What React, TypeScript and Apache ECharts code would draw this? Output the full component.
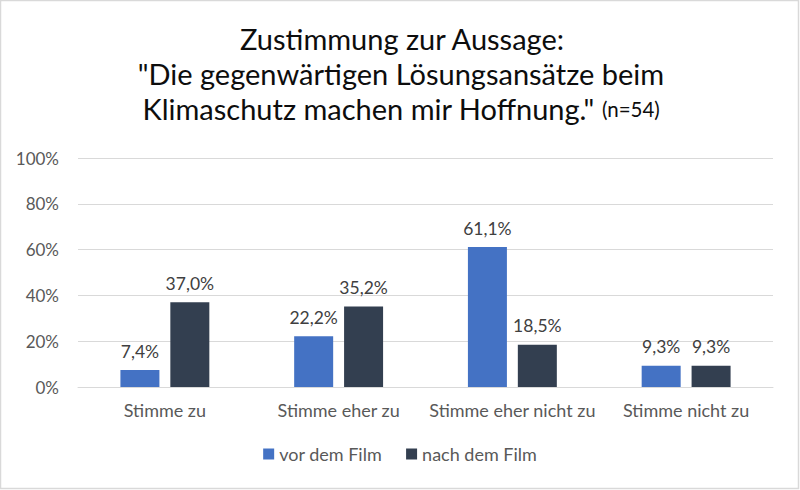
import React, { useEffect, useRef } from "react";
import * as echarts from "echarts";

const categories = ["Stimme zu", "Stimme eher zu", "Stimme eher nicht zu", "Stimme nicht zu"];
const seriesNames = ["vor dem Film", "nach dem Film"];
const vorValues = [7.4, 22.2, 61.1, 9.3];
const nachValues = [37.0, 35.2, 18.5, 9.3];
const yTicks = [0, 20, 40, 60, 80, 100];
const titleLines = ["Zustimmung zur Aussage:", '"Die gegenwärtigen Lösungsansätze beim', 'Klimaschutz machen mir Hoffnung."'];
const titleNote = "(n=54)";

const FONT = "Lato";

export default function App() {
  const ref = useRef<HTMLDivElement>(null);
  useEffect(() => {
    document.body.style.margin = "0";
    const chart = echarts.init(ref.current!, null, { renderer: "svg" });
    const fmt = (p: any) => p.value.toFixed(1).replace(".", ",") + "%";
    const titleStyle = { fontFamily: FONT, fontSize: 29, fill: "#0d0d0d", align: "center", verticalAlign: "middle" };
    chart.setOption({
      animation: false,
      backgroundColor: "#fff",
      textStyle: { fontFamily: FONT },
      graphic: [
        {
          type: "rect",
          shape: { x: 0.5, y: 0.5, width: 798, height: 488 },
          style: { fill: "none", stroke: "#d9d9d9", lineWidth: 1.5 },
          silent: true,
        },
        { type: "text", x: 402, y: 38, style: { ...titleStyle, text: titleLines[0] } },
        { type: "text", x: 401, y: 73, style: { ...titleStyle, text: titleLines[1] } },
        {
          type: "text",
          x: 401,
          y: 108,
          style: {
            ...titleStyle,
            text: titleLines[2] + " {s|" + titleNote + "}",
            rich: { s: { fontFamily: FONT, fontSize: 20.5, fill: "#0d0d0d", verticalAlign: "bottom", padding: [0, 0, 3, 0] } },
          },
        },
      ],
      legend: {
        bottom: 22,
        left: "center",
        itemWidth: 11,
        itemHeight: 11,
        itemGap: 24,
        icon: "rect",
        textStyle: { fontFamily: FONT, fontSize: 18, color: "#595959" },
        data: seriesNames,
      },
      grid: { left: 78, right: 27, top: 158, bottom: 103, containLabel: false },
      xAxis: {
        type: "category",
        data: categories,
        axisTick: { show: false },
        axisLine: { lineStyle: { color: "#d9d9d9" } },
        axisLabel: { fontFamily: FONT, fontSize: 18, color: "#595959", margin: 14, interval: 0 },
      },
      yAxis: {
        type: "value",
        min: yTicks[0],
        max: yTicks[yTicks.length - 1],
        interval: 20,
        axisLabel: {
          fontFamily: FONT,
          fontSize: 17,
          color: "#595959",
          margin: 19,
          formatter: (v: number) => v + "%",
        },
        splitLine: { lineStyle: { color: "#d9d9d9" } },
        axisLine: { show: false },
        axisTick: { show: false },
      },
      series: [
        {
          name: seriesNames[0],
          type: "bar",
          data: vorValues,
          barWidth: 39,
          barGap: "28%",
          itemStyle: { color: "#4472C4" },
          label: { show: true, position: "top", distance: 10, formatter: fmt, fontFamily: FONT, fontSize: 17.5, color: "#404040" },
        },
        {
          name: seriesNames[1],
          type: "bar",
          data: nachValues,
          barWidth: 39,
          itemStyle: { color: "#333F50" },
          label: { show: true, position: "top", distance: 10, formatter: fmt, fontFamily: FONT, fontSize: 17.5, color: "#404040" },
        },
      ],
    });
    return () => chart.dispose();
  }, []);
  return <div ref={ref} style={{ width: 800, height: 490 }} />;
}
